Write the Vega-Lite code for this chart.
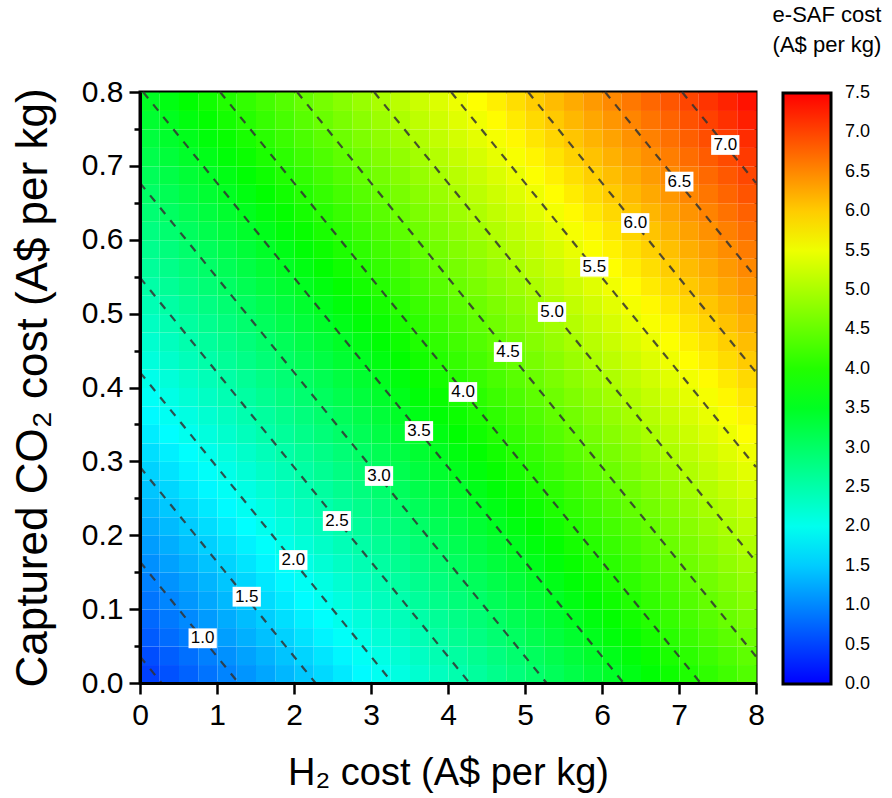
{
"$schema":"https://vega.github.io/schema/vega-lite/v6.json",
"width":616,"height":591,
"autosize":{"type":"none"},
"padding":{"left":140,"top":92,"right":136,"bottom":115},
"background":"white",
"datasets":{
"grid":[
{"h":0.125,"c":0.0125,"v":0.471},{"h":0.375,"c":0.0125,"v":0.596},{"h":0.625,"c":0.0125,"v":0.721},{"h":0.875,"c":0.0125,"v":0.846},{"h":1.125,"c":0.0125,"v":0.971},{"h":1.375,"c":0.0125,"v":1.096},{"h":1.625,"c":0.0125,"v":1.221},{"h":1.875,"c":0.0125,"v":1.346},{"h":2.125,"c":0.0125,"v":1.471},{"h":2.375,"c":0.0125,"v":1.596},{"h":2.625,"c":0.0125,"v":1.721},{"h":2.875,"c":0.0125,"v":1.846},{"h":3.125,"c":0.0125,"v":1.971},{"h":3.375,"c":0.0125,"v":2.096},{"h":3.625,"c":0.0125,"v":2.221},{"h":3.875,"c":0.0125,"v":2.346},{"h":4.125,"c":0.0125,"v":2.471},{"h":4.375,"c":0.0125,"v":2.596},{"h":4.625,"c":0.0125,"v":2.721},{"h":4.875,"c":0.0125,"v":2.846},{"h":5.125,"c":0.0125,"v":2.971},{"h":5.375,"c":0.0125,"v":3.096},{"h":5.625,"c":0.0125,"v":3.221},{"h":5.875,"c":0.0125,"v":3.346},{"h":6.125,"c":0.0125,"v":3.471},{"h":6.375,"c":0.0125,"v":3.596},{"h":6.625,"c":0.0125,"v":3.721},{"h":6.875,"c":0.0125,"v":3.846},{"h":7.125,"c":0.0125,"v":3.971},{"h":7.375,"c":0.0125,"v":4.096},{"h":7.625,"c":0.0125,"v":4.221},{"h":7.875,"c":0.0125,"v":4.346},
{"h":0.125,"c":0.0375,"v":0.569},{"h":0.375,"c":0.0375,"v":0.694},{"h":0.625,"c":0.0375,"v":0.819},{"h":0.875,"c":0.0375,"v":0.944},{"h":1.125,"c":0.0375,"v":1.069},{"h":1.375,"c":0.0375,"v":1.194},{"h":1.625,"c":0.0375,"v":1.319},{"h":1.875,"c":0.0375,"v":1.444},{"h":2.125,"c":0.0375,"v":1.569},{"h":2.375,"c":0.0375,"v":1.694},{"h":2.625,"c":0.0375,"v":1.819},{"h":2.875,"c":0.0375,"v":1.944},{"h":3.125,"c":0.0375,"v":2.069},{"h":3.375,"c":0.0375,"v":2.194},{"h":3.625,"c":0.0375,"v":2.319},{"h":3.875,"c":0.0375,"v":2.444},{"h":4.125,"c":0.0375,"v":2.569},{"h":4.375,"c":0.0375,"v":2.694},{"h":4.625,"c":0.0375,"v":2.819},{"h":4.875,"c":0.0375,"v":2.944},{"h":5.125,"c":0.0375,"v":3.069},{"h":5.375,"c":0.0375,"v":3.194},{"h":5.625,"c":0.0375,"v":3.319},{"h":5.875,"c":0.0375,"v":3.444},{"h":6.125,"c":0.0375,"v":3.569},{"h":6.375,"c":0.0375,"v":3.694},{"h":6.625,"c":0.0375,"v":3.819},{"h":6.875,"c":0.0375,"v":3.944},{"h":7.125,"c":0.0375,"v":4.069},{"h":7.375,"c":0.0375,"v":4.194},{"h":7.625,"c":0.0375,"v":4.319},{"h":7.875,"c":0.0375,"v":4.444},
{"h":0.125,"c":0.0625,"v":0.666},{"h":0.375,"c":0.0625,"v":0.791},{"h":0.625,"c":0.0625,"v":0.916},{"h":0.875,"c":0.0625,"v":1.041},{"h":1.125,"c":0.0625,"v":1.166},{"h":1.375,"c":0.0625,"v":1.291},{"h":1.625,"c":0.0625,"v":1.416},{"h":1.875,"c":0.0625,"v":1.541},{"h":2.125,"c":0.0625,"v":1.666},{"h":2.375,"c":0.0625,"v":1.791},{"h":2.625,"c":0.0625,"v":1.916},{"h":2.875,"c":0.0625,"v":2.041},{"h":3.125,"c":0.0625,"v":2.166},{"h":3.375,"c":0.0625,"v":2.291},{"h":3.625,"c":0.0625,"v":2.416},{"h":3.875,"c":0.0625,"v":2.541},{"h":4.125,"c":0.0625,"v":2.666},{"h":4.375,"c":0.0625,"v":2.791},{"h":4.625,"c":0.0625,"v":2.916},{"h":4.875,"c":0.0625,"v":3.041},{"h":5.125,"c":0.0625,"v":3.166},{"h":5.375,"c":0.0625,"v":3.291},{"h":5.625,"c":0.0625,"v":3.416},{"h":5.875,"c":0.0625,"v":3.541},{"h":6.125,"c":0.0625,"v":3.666},{"h":6.375,"c":0.0625,"v":3.791},{"h":6.625,"c":0.0625,"v":3.916},{"h":6.875,"c":0.0625,"v":4.041},{"h":7.125,"c":0.0625,"v":4.166},{"h":7.375,"c":0.0625,"v":4.291},{"h":7.625,"c":0.0625,"v":4.416},{"h":7.875,"c":0.0625,"v":4.541},
{"h":0.125,"c":0.0875,"v":0.764},{"h":0.375,"c":0.0875,"v":0.889},{"h":0.625,"c":0.0875,"v":1.014},{"h":0.875,"c":0.0875,"v":1.139},{"h":1.125,"c":0.0875,"v":1.264},{"h":1.375,"c":0.0875,"v":1.389},{"h":1.625,"c":0.0875,"v":1.514},{"h":1.875,"c":0.0875,"v":1.639},{"h":2.125,"c":0.0875,"v":1.764},{"h":2.375,"c":0.0875,"v":1.889},{"h":2.625,"c":0.0875,"v":2.014},{"h":2.875,"c":0.0875,"v":2.139},{"h":3.125,"c":0.0875,"v":2.264},{"h":3.375,"c":0.0875,"v":2.389},{"h":3.625,"c":0.0875,"v":2.514},{"h":3.875,"c":0.0875,"v":2.639},{"h":4.125,"c":0.0875,"v":2.764},{"h":4.375,"c":0.0875,"v":2.889},{"h":4.625,"c":0.0875,"v":3.014},{"h":4.875,"c":0.0875,"v":3.139},{"h":5.125,"c":0.0875,"v":3.264},{"h":5.375,"c":0.0875,"v":3.389},{"h":5.625,"c":0.0875,"v":3.514},{"h":5.875,"c":0.0875,"v":3.639},{"h":6.125,"c":0.0875,"v":3.764},{"h":6.375,"c":0.0875,"v":3.889},{"h":6.625,"c":0.0875,"v":4.014},{"h":6.875,"c":0.0875,"v":4.139},{"h":7.125,"c":0.0875,"v":4.264},{"h":7.375,"c":0.0875,"v":4.389},{"h":7.625,"c":0.0875,"v":4.514},{"h":7.875,"c":0.0875,"v":4.639},
{"h":0.125,"c":0.1125,"v":0.861},{"h":0.375,"c":0.1125,"v":0.986},{"h":0.625,"c":0.1125,"v":1.111},{"h":0.875,"c":0.1125,"v":1.236},{"h":1.125,"c":0.1125,"v":1.361},{"h":1.375,"c":0.1125,"v":1.486},{"h":1.625,"c":0.1125,"v":1.611},{"h":1.875,"c":0.1125,"v":1.736},{"h":2.125,"c":0.1125,"v":1.861},{"h":2.375,"c":0.1125,"v":1.986},{"h":2.625,"c":0.1125,"v":2.111},{"h":2.875,"c":0.1125,"v":2.236},{"h":3.125,"c":0.1125,"v":2.361},{"h":3.375,"c":0.1125,"v":2.486},{"h":3.625,"c":0.1125,"v":2.611},{"h":3.875,"c":0.1125,"v":2.736},{"h":4.125,"c":0.1125,"v":2.861},{"h":4.375,"c":0.1125,"v":2.986},{"h":4.625,"c":0.1125,"v":3.111},{"h":4.875,"c":0.1125,"v":3.236},{"h":5.125,"c":0.1125,"v":3.361},{"h":5.375,"c":0.1125,"v":3.486},{"h":5.625,"c":0.1125,"v":3.611},{"h":5.875,"c":0.1125,"v":3.736},{"h":6.125,"c":0.1125,"v":3.861},{"h":6.375,"c":0.1125,"v":3.986},{"h":6.625,"c":0.1125,"v":4.111},{"h":6.875,"c":0.1125,"v":4.236},{"h":7.125,"c":0.1125,"v":4.361},{"h":7.375,"c":0.1125,"v":4.486},{"h":7.625,"c":0.1125,"v":4.611},{"h":7.875,"c":0.1125,"v":4.736},
{"h":0.125,"c":0.1375,"v":0.959},{"h":0.375,"c":0.1375,"v":1.084},{"h":0.625,"c":0.1375,"v":1.209},{"h":0.875,"c":0.1375,"v":1.334},{"h":1.125,"c":0.1375,"v":1.459},{"h":1.375,"c":0.1375,"v":1.584},{"h":1.625,"c":0.1375,"v":1.709},{"h":1.875,"c":0.1375,"v":1.834},{"h":2.125,"c":0.1375,"v":1.959},{"h":2.375,"c":0.1375,"v":2.084},{"h":2.625,"c":0.1375,"v":2.209},{"h":2.875,"c":0.1375,"v":2.334},{"h":3.125,"c":0.1375,"v":2.459},{"h":3.375,"c":0.1375,"v":2.584},{"h":3.625,"c":0.1375,"v":2.709},{"h":3.875,"c":0.1375,"v":2.834},{"h":4.125,"c":0.1375,"v":2.959},{"h":4.375,"c":0.1375,"v":3.084},{"h":4.625,"c":0.1375,"v":3.209},{"h":4.875,"c":0.1375,"v":3.334},{"h":5.125,"c":0.1375,"v":3.459},{"h":5.375,"c":0.1375,"v":3.584},{"h":5.625,"c":0.1375,"v":3.709},{"h":5.875,"c":0.1375,"v":3.834},{"h":6.125,"c":0.1375,"v":3.959},{"h":6.375,"c":0.1375,"v":4.084},{"h":6.625,"c":0.1375,"v":4.209},{"h":6.875,"c":0.1375,"v":4.334},{"h":7.125,"c":0.1375,"v":4.459},{"h":7.375,"c":0.1375,"v":4.584},{"h":7.625,"c":0.1375,"v":4.709},{"h":7.875,"c":0.1375,"v":4.834},
{"h":0.125,"c":0.1625,"v":1.056},{"h":0.375,"c":0.1625,"v":1.181},{"h":0.625,"c":0.1625,"v":1.306},{"h":0.875,"c":0.1625,"v":1.431},{"h":1.125,"c":0.1625,"v":1.556},{"h":1.375,"c":0.1625,"v":1.681},{"h":1.625,"c":0.1625,"v":1.806},{"h":1.875,"c":0.1625,"v":1.931},{"h":2.125,"c":0.1625,"v":2.056},{"h":2.375,"c":0.1625,"v":2.181},{"h":2.625,"c":0.1625,"v":2.306},{"h":2.875,"c":0.1625,"v":2.431},{"h":3.125,"c":0.1625,"v":2.556},{"h":3.375,"c":0.1625,"v":2.681},{"h":3.625,"c":0.1625,"v":2.806},{"h":3.875,"c":0.1625,"v":2.931},{"h":4.125,"c":0.1625,"v":3.056},{"h":4.375,"c":0.1625,"v":3.181},{"h":4.625,"c":0.1625,"v":3.306},{"h":4.875,"c":0.1625,"v":3.431},{"h":5.125,"c":0.1625,"v":3.556},{"h":5.375,"c":0.1625,"v":3.681},{"h":5.625,"c":0.1625,"v":3.806},{"h":5.875,"c":0.1625,"v":3.931},{"h":6.125,"c":0.1625,"v":4.056},{"h":6.375,"c":0.1625,"v":4.181},{"h":6.625,"c":0.1625,"v":4.306},{"h":6.875,"c":0.1625,"v":4.431},{"h":7.125,"c":0.1625,"v":4.556},{"h":7.375,"c":0.1625,"v":4.681},{"h":7.625,"c":0.1625,"v":4.806},{"h":7.875,"c":0.1625,"v":4.931},
{"h":0.125,"c":0.1875,"v":1.154},{"h":0.375,"c":0.1875,"v":1.279},{"h":0.625,"c":0.1875,"v":1.404},{"h":0.875,"c":0.1875,"v":1.529},{"h":1.125,"c":0.1875,"v":1.654},{"h":1.375,"c":0.1875,"v":1.779},{"h":1.625,"c":0.1875,"v":1.904},{"h":1.875,"c":0.1875,"v":2.029},{"h":2.125,"c":0.1875,"v":2.154},{"h":2.375,"c":0.1875,"v":2.279},{"h":2.625,"c":0.1875,"v":2.404},{"h":2.875,"c":0.1875,"v":2.529},{"h":3.125,"c":0.1875,"v":2.654},{"h":3.375,"c":0.1875,"v":2.779},{"h":3.625,"c":0.1875,"v":2.904},{"h":3.875,"c":0.1875,"v":3.029},{"h":4.125,"c":0.1875,"v":3.154},{"h":4.375,"c":0.1875,"v":3.279},{"h":4.625,"c":0.1875,"v":3.404},{"h":4.875,"c":0.1875,"v":3.529},{"h":5.125,"c":0.1875,"v":3.654},{"h":5.375,"c":0.1875,"v":3.779},{"h":5.625,"c":0.1875,"v":3.904},{"h":5.875,"c":0.1875,"v":4.029},{"h":6.125,"c":0.1875,"v":4.154},{"h":6.375,"c":0.1875,"v":4.279},{"h":6.625,"c":0.1875,"v":4.404},{"h":6.875,"c":0.1875,"v":4.529},{"h":7.125,"c":0.1875,"v":4.654},{"h":7.375,"c":0.1875,"v":4.779},{"h":7.625,"c":0.1875,"v":4.904},{"h":7.875,"c":0.1875,"v":5.029},
{"h":0.125,"c":0.2125,"v":1.251},{"h":0.375,"c":0.2125,"v":1.376},{"h":0.625,"c":0.2125,"v":1.501},{"h":0.875,"c":0.2125,"v":1.626},{"h":1.125,"c":0.2125,"v":1.751},{"h":1.375,"c":0.2125,"v":1.876},{"h":1.625,"c":0.2125,"v":2.001},{"h":1.875,"c":0.2125,"v":2.126},{"h":2.125,"c":0.2125,"v":2.251},{"h":2.375,"c":0.2125,"v":2.376},{"h":2.625,"c":0.2125,"v":2.501},{"h":2.875,"c":0.2125,"v":2.626},{"h":3.125,"c":0.2125,"v":2.751},{"h":3.375,"c":0.2125,"v":2.876},{"h":3.625,"c":0.2125,"v":3.001},{"h":3.875,"c":0.2125,"v":3.126},{"h":4.125,"c":0.2125,"v":3.251},{"h":4.375,"c":0.2125,"v":3.376},{"h":4.625,"c":0.2125,"v":3.501},{"h":4.875,"c":0.2125,"v":3.626},{"h":5.125,"c":0.2125,"v":3.751},{"h":5.375,"c":0.2125,"v":3.876},{"h":5.625,"c":0.2125,"v":4.001},{"h":5.875,"c":0.2125,"v":4.126},{"h":6.125,"c":0.2125,"v":4.251},{"h":6.375,"c":0.2125,"v":4.376},{"h":6.625,"c":0.2125,"v":4.501},{"h":6.875,"c":0.2125,"v":4.626},{"h":7.125,"c":0.2125,"v":4.751},{"h":7.375,"c":0.2125,"v":4.876},{"h":7.625,"c":0.2125,"v":5.001},{"h":7.875,"c":0.2125,"v":5.126},
{"h":0.125,"c":0.2375,"v":1.349},{"h":0.375,"c":0.2375,"v":1.474},{"h":0.625,"c":0.2375,"v":1.599},{"h":0.875,"c":0.2375,"v":1.724},{"h":1.125,"c":0.2375,"v":1.849},{"h":1.375,"c":0.2375,"v":1.974},{"h":1.625,"c":0.2375,"v":2.099},{"h":1.875,"c":0.2375,"v":2.224},{"h":2.125,"c":0.2375,"v":2.349},{"h":2.375,"c":0.2375,"v":2.474},{"h":2.625,"c":0.2375,"v":2.599},{"h":2.875,"c":0.2375,"v":2.724},{"h":3.125,"c":0.2375,"v":2.849},{"h":3.375,"c":0.2375,"v":2.974},{"h":3.625,"c":0.2375,"v":3.099},{"h":3.875,"c":0.2375,"v":3.224},{"h":4.125,"c":0.2375,"v":3.349},{"h":4.375,"c":0.2375,"v":3.474},{"h":4.625,"c":0.2375,"v":3.599},{"h":4.875,"c":0.2375,"v":3.724},{"h":5.125,"c":0.2375,"v":3.849},{"h":5.375,"c":0.2375,"v":3.974},{"h":5.625,"c":0.2375,"v":4.099},{"h":5.875,"c":0.2375,"v":4.224},{"h":6.125,"c":0.2375,"v":4.349},{"h":6.375,"c":0.2375,"v":4.474},{"h":6.625,"c":0.2375,"v":4.599},{"h":6.875,"c":0.2375,"v":4.724},{"h":7.125,"c":0.2375,"v":4.849},{"h":7.375,"c":0.2375,"v":4.974},{"h":7.625,"c":0.2375,"v":5.099},{"h":7.875,"c":0.2375,"v":5.224},
{"h":0.125,"c":0.2625,"v":1.446},{"h":0.375,"c":0.2625,"v":1.571},{"h":0.625,"c":0.2625,"v":1.696},{"h":0.875,"c":0.2625,"v":1.821},{"h":1.125,"c":0.2625,"v":1.946},{"h":1.375,"c":0.2625,"v":2.071},{"h":1.625,"c":0.2625,"v":2.196},{"h":1.875,"c":0.2625,"v":2.321},{"h":2.125,"c":0.2625,"v":2.446},{"h":2.375,"c":0.2625,"v":2.571},{"h":2.625,"c":0.2625,"v":2.696},{"h":2.875,"c":0.2625,"v":2.821},{"h":3.125,"c":0.2625,"v":2.946},{"h":3.375,"c":0.2625,"v":3.071},{"h":3.625,"c":0.2625,"v":3.196},{"h":3.875,"c":0.2625,"v":3.321},{"h":4.125,"c":0.2625,"v":3.446},{"h":4.375,"c":0.2625,"v":3.571},{"h":4.625,"c":0.2625,"v":3.696},{"h":4.875,"c":0.2625,"v":3.821},{"h":5.125,"c":0.2625,"v":3.946},{"h":5.375,"c":0.2625,"v":4.071},{"h":5.625,"c":0.2625,"v":4.196},{"h":5.875,"c":0.2625,"v":4.321},{"h":6.125,"c":0.2625,"v":4.446},{"h":6.375,"c":0.2625,"v":4.571},{"h":6.625,"c":0.2625,"v":4.696},{"h":6.875,"c":0.2625,"v":4.821},{"h":7.125,"c":0.2625,"v":4.946},{"h":7.375,"c":0.2625,"v":5.071},{"h":7.625,"c":0.2625,"v":5.196},{"h":7.875,"c":0.2625,"v":5.321},
{"h":0.125,"c":0.2875,"v":1.544},{"h":0.375,"c":0.2875,"v":1.669},{"h":0.625,"c":0.2875,"v":1.794},{"h":0.875,"c":0.2875,"v":1.919},{"h":1.125,"c":0.2875,"v":2.044},{"h":1.375,"c":0.2875,"v":2.169},{"h":1.625,"c":0.2875,"v":2.294},{"h":1.875,"c":0.2875,"v":2.419},{"h":2.125,"c":0.2875,"v":2.544},{"h":2.375,"c":0.2875,"v":2.669},{"h":2.625,"c":0.2875,"v":2.794},{"h":2.875,"c":0.2875,"v":2.919},{"h":3.125,"c":0.2875,"v":3.044},{"h":3.375,"c":0.2875,"v":3.169},{"h":3.625,"c":0.2875,"v":3.294},{"h":3.875,"c":0.2875,"v":3.419},{"h":4.125,"c":0.2875,"v":3.544},{"h":4.375,"c":0.2875,"v":3.669},{"h":4.625,"c":0.2875,"v":3.794},{"h":4.875,"c":0.2875,"v":3.919},{"h":5.125,"c":0.2875,"v":4.044},{"h":5.375,"c":0.2875,"v":4.169},{"h":5.625,"c":0.2875,"v":4.294},{"h":5.875,"c":0.2875,"v":4.419},{"h":6.125,"c":0.2875,"v":4.544},{"h":6.375,"c":0.2875,"v":4.669},{"h":6.625,"c":0.2875,"v":4.794},{"h":6.875,"c":0.2875,"v":4.919},{"h":7.125,"c":0.2875,"v":5.044},{"h":7.375,"c":0.2875,"v":5.169},{"h":7.625,"c":0.2875,"v":5.294},{"h":7.875,"c":0.2875,"v":5.419},
{"h":0.125,"c":0.3125,"v":1.641},{"h":0.375,"c":0.3125,"v":1.766},{"h":0.625,"c":0.3125,"v":1.891},{"h":0.875,"c":0.3125,"v":2.016},{"h":1.125,"c":0.3125,"v":2.141},{"h":1.375,"c":0.3125,"v":2.266},{"h":1.625,"c":0.3125,"v":2.391},{"h":1.875,"c":0.3125,"v":2.516},{"h":2.125,"c":0.3125,"v":2.641},{"h":2.375,"c":0.3125,"v":2.766},{"h":2.625,"c":0.3125,"v":2.891},{"h":2.875,"c":0.3125,"v":3.016},{"h":3.125,"c":0.3125,"v":3.141},{"h":3.375,"c":0.3125,"v":3.266},{"h":3.625,"c":0.3125,"v":3.391},{"h":3.875,"c":0.3125,"v":3.516},{"h":4.125,"c":0.3125,"v":3.641},{"h":4.375,"c":0.3125,"v":3.766},{"h":4.625,"c":0.3125,"v":3.891},{"h":4.875,"c":0.3125,"v":4.016},{"h":5.125,"c":0.3125,"v":4.141},{"h":5.375,"c":0.3125,"v":4.266},{"h":5.625,"c":0.3125,"v":4.391},{"h":5.875,"c":0.3125,"v":4.516},{"h":6.125,"c":0.3125,"v":4.641},{"h":6.375,"c":0.3125,"v":4.766},{"h":6.625,"c":0.3125,"v":4.891},{"h":6.875,"c":0.3125,"v":5.016},{"h":7.125,"c":0.3125,"v":5.141},{"h":7.375,"c":0.3125,"v":5.266},{"h":7.625,"c":0.3125,"v":5.391},{"h":7.875,"c":0.3125,"v":5.516},
{"h":0.125,"c":0.3375,"v":1.739},{"h":0.375,"c":0.3375,"v":1.864},{"h":0.625,"c":0.3375,"v":1.989},{"h":0.875,"c":0.3375,"v":2.114},{"h":1.125,"c":0.3375,"v":2.239},{"h":1.375,"c":0.3375,"v":2.364},{"h":1.625,"c":0.3375,"v":2.489},{"h":1.875,"c":0.3375,"v":2.614},{"h":2.125,"c":0.3375,"v":2.739},{"h":2.375,"c":0.3375,"v":2.864},{"h":2.625,"c":0.3375,"v":2.989},{"h":2.875,"c":0.3375,"v":3.114},{"h":3.125,"c":0.3375,"v":3.239},{"h":3.375,"c":0.3375,"v":3.364},{"h":3.625,"c":0.3375,"v":3.489},{"h":3.875,"c":0.3375,"v":3.614},{"h":4.125,"c":0.3375,"v":3.739},{"h":4.375,"c":0.3375,"v":3.864},{"h":4.625,"c":0.3375,"v":3.989},{"h":4.875,"c":0.3375,"v":4.114},{"h":5.125,"c":0.3375,"v":4.239},{"h":5.375,"c":0.3375,"v":4.364},{"h":5.625,"c":0.3375,"v":4.489},{"h":5.875,"c":0.3375,"v":4.614},{"h":6.125,"c":0.3375,"v":4.739},{"h":6.375,"c":0.3375,"v":4.864},{"h":6.625,"c":0.3375,"v":4.989},{"h":6.875,"c":0.3375,"v":5.114},{"h":7.125,"c":0.3375,"v":5.239},{"h":7.375,"c":0.3375,"v":5.364},{"h":7.625,"c":0.3375,"v":5.489},{"h":7.875,"c":0.3375,"v":5.614},
{"h":0.125,"c":0.3625,"v":1.836},{"h":0.375,"c":0.3625,"v":1.961},{"h":0.625,"c":0.3625,"v":2.086},{"h":0.875,"c":0.3625,"v":2.211},{"h":1.125,"c":0.3625,"v":2.336},{"h":1.375,"c":0.3625,"v":2.461},{"h":1.625,"c":0.3625,"v":2.586},{"h":1.875,"c":0.3625,"v":2.711},{"h":2.125,"c":0.3625,"v":2.836},{"h":2.375,"c":0.3625,"v":2.961},{"h":2.625,"c":0.3625,"v":3.086},{"h":2.875,"c":0.3625,"v":3.211},{"h":3.125,"c":0.3625,"v":3.336},{"h":3.375,"c":0.3625,"v":3.461},{"h":3.625,"c":0.3625,"v":3.586},{"h":3.875,"c":0.3625,"v":3.711},{"h":4.125,"c":0.3625,"v":3.836},{"h":4.375,"c":0.3625,"v":3.961},{"h":4.625,"c":0.3625,"v":4.086},{"h":4.875,"c":0.3625,"v":4.211},{"h":5.125,"c":0.3625,"v":4.336},{"h":5.375,"c":0.3625,"v":4.461},{"h":5.625,"c":0.3625,"v":4.586},{"h":5.875,"c":0.3625,"v":4.711},{"h":6.125,"c":0.3625,"v":4.836},{"h":6.375,"c":0.3625,"v":4.961},{"h":6.625,"c":0.3625,"v":5.086},{"h":6.875,"c":0.3625,"v":5.211},{"h":7.125,"c":0.3625,"v":5.336},{"h":7.375,"c":0.3625,"v":5.461},{"h":7.625,"c":0.3625,"v":5.586},{"h":7.875,"c":0.3625,"v":5.711},
{"h":0.125,"c":0.3875,"v":1.934},{"h":0.375,"c":0.3875,"v":2.059},{"h":0.625,"c":0.3875,"v":2.184},{"h":0.875,"c":0.3875,"v":2.309},{"h":1.125,"c":0.3875,"v":2.434},{"h":1.375,"c":0.3875,"v":2.559},{"h":1.625,"c":0.3875,"v":2.684},{"h":1.875,"c":0.3875,"v":2.809},{"h":2.125,"c":0.3875,"v":2.934},{"h":2.375,"c":0.3875,"v":3.059},{"h":2.625,"c":0.3875,"v":3.184},{"h":2.875,"c":0.3875,"v":3.309},{"h":3.125,"c":0.3875,"v":3.434},{"h":3.375,"c":0.3875,"v":3.559},{"h":3.625,"c":0.3875,"v":3.684},{"h":3.875,"c":0.3875,"v":3.809},{"h":4.125,"c":0.3875,"v":3.934},{"h":4.375,"c":0.3875,"v":4.059},{"h":4.625,"c":0.3875,"v":4.184},{"h":4.875,"c":0.3875,"v":4.309},{"h":5.125,"c":0.3875,"v":4.434},{"h":5.375,"c":0.3875,"v":4.559},{"h":5.625,"c":0.3875,"v":4.684},{"h":5.875,"c":0.3875,"v":4.809},{"h":6.125,"c":0.3875,"v":4.934},{"h":6.375,"c":0.3875,"v":5.059},{"h":6.625,"c":0.3875,"v":5.184},{"h":6.875,"c":0.3875,"v":5.309},{"h":7.125,"c":0.3875,"v":5.434},{"h":7.375,"c":0.3875,"v":5.559},{"h":7.625,"c":0.3875,"v":5.684},{"h":7.875,"c":0.3875,"v":5.809},
{"h":0.125,"c":0.4125,"v":2.031},{"h":0.375,"c":0.4125,"v":2.156},{"h":0.625,"c":0.4125,"v":2.281},{"h":0.875,"c":0.4125,"v":2.406},{"h":1.125,"c":0.4125,"v":2.531},{"h":1.375,"c":0.4125,"v":2.656},{"h":1.625,"c":0.4125,"v":2.781},{"h":1.875,"c":0.4125,"v":2.906},{"h":2.125,"c":0.4125,"v":3.031},{"h":2.375,"c":0.4125,"v":3.156},{"h":2.625,"c":0.4125,"v":3.281},{"h":2.875,"c":0.4125,"v":3.406},{"h":3.125,"c":0.4125,"v":3.531},{"h":3.375,"c":0.4125,"v":3.656},{"h":3.625,"c":0.4125,"v":3.781},{"h":3.875,"c":0.4125,"v":3.906},{"h":4.125,"c":0.4125,"v":4.031},{"h":4.375,"c":0.4125,"v":4.156},{"h":4.625,"c":0.4125,"v":4.281},{"h":4.875,"c":0.4125,"v":4.406},{"h":5.125,"c":0.4125,"v":4.531},{"h":5.375,"c":0.4125,"v":4.656},{"h":5.625,"c":0.4125,"v":4.781},{"h":5.875,"c":0.4125,"v":4.906},{"h":6.125,"c":0.4125,"v":5.031},{"h":6.375,"c":0.4125,"v":5.156},{"h":6.625,"c":0.4125,"v":5.281},{"h":6.875,"c":0.4125,"v":5.406},{"h":7.125,"c":0.4125,"v":5.531},{"h":7.375,"c":0.4125,"v":5.656},{"h":7.625,"c":0.4125,"v":5.781},{"h":7.875,"c":0.4125,"v":5.906},
{"h":0.125,"c":0.4375,"v":2.129},{"h":0.375,"c":0.4375,"v":2.254},{"h":0.625,"c":0.4375,"v":2.379},{"h":0.875,"c":0.4375,"v":2.504},{"h":1.125,"c":0.4375,"v":2.629},{"h":1.375,"c":0.4375,"v":2.754},{"h":1.625,"c":0.4375,"v":2.879},{"h":1.875,"c":0.4375,"v":3.004},{"h":2.125,"c":0.4375,"v":3.129},{"h":2.375,"c":0.4375,"v":3.254},{"h":2.625,"c":0.4375,"v":3.379},{"h":2.875,"c":0.4375,"v":3.504},{"h":3.125,"c":0.4375,"v":3.629},{"h":3.375,"c":0.4375,"v":3.754},{"h":3.625,"c":0.4375,"v":3.879},{"h":3.875,"c":0.4375,"v":4.004},{"h":4.125,"c":0.4375,"v":4.129},{"h":4.375,"c":0.4375,"v":4.254},{"h":4.625,"c":0.4375,"v":4.379},{"h":4.875,"c":0.4375,"v":4.504},{"h":5.125,"c":0.4375,"v":4.629},{"h":5.375,"c":0.4375,"v":4.754},{"h":5.625,"c":0.4375,"v":4.879},{"h":5.875,"c":0.4375,"v":5.004},{"h":6.125,"c":0.4375,"v":5.129},{"h":6.375,"c":0.4375,"v":5.254},{"h":6.625,"c":0.4375,"v":5.379},{"h":6.875,"c":0.4375,"v":5.504},{"h":7.125,"c":0.4375,"v":5.629},{"h":7.375,"c":0.4375,"v":5.754},{"h":7.625,"c":0.4375,"v":5.879},{"h":7.875,"c":0.4375,"v":6.004},
{"h":0.125,"c":0.4625,"v":2.226},{"h":0.375,"c":0.4625,"v":2.351},{"h":0.625,"c":0.4625,"v":2.476},{"h":0.875,"c":0.4625,"v":2.601},{"h":1.125,"c":0.4625,"v":2.726},{"h":1.375,"c":0.4625,"v":2.851},{"h":1.625,"c":0.4625,"v":2.976},{"h":1.875,"c":0.4625,"v":3.101},{"h":2.125,"c":0.4625,"v":3.226},{"h":2.375,"c":0.4625,"v":3.351},{"h":2.625,"c":0.4625,"v":3.476},{"h":2.875,"c":0.4625,"v":3.601},{"h":3.125,"c":0.4625,"v":3.726},{"h":3.375,"c":0.4625,"v":3.851},{"h":3.625,"c":0.4625,"v":3.976},{"h":3.875,"c":0.4625,"v":4.101},{"h":4.125,"c":0.4625,"v":4.226},{"h":4.375,"c":0.4625,"v":4.351},{"h":4.625,"c":0.4625,"v":4.476},{"h":4.875,"c":0.4625,"v":4.601},{"h":5.125,"c":0.4625,"v":4.726},{"h":5.375,"c":0.4625,"v":4.851},{"h":5.625,"c":0.4625,"v":4.976},{"h":5.875,"c":0.4625,"v":5.101},{"h":6.125,"c":0.4625,"v":5.226},{"h":6.375,"c":0.4625,"v":5.351},{"h":6.625,"c":0.4625,"v":5.476},{"h":6.875,"c":0.4625,"v":5.601},{"h":7.125,"c":0.4625,"v":5.726},{"h":7.375,"c":0.4625,"v":5.851},{"h":7.625,"c":0.4625,"v":5.976},{"h":7.875,"c":0.4625,"v":6.101},
{"h":0.125,"c":0.4875,"v":2.324},{"h":0.375,"c":0.4875,"v":2.449},{"h":0.625,"c":0.4875,"v":2.574},{"h":0.875,"c":0.4875,"v":2.699},{"h":1.125,"c":0.4875,"v":2.824},{"h":1.375,"c":0.4875,"v":2.949},{"h":1.625,"c":0.4875,"v":3.074},{"h":1.875,"c":0.4875,"v":3.199},{"h":2.125,"c":0.4875,"v":3.324},{"h":2.375,"c":0.4875,"v":3.449},{"h":2.625,"c":0.4875,"v":3.574},{"h":2.875,"c":0.4875,"v":3.699},{"h":3.125,"c":0.4875,"v":3.824},{"h":3.375,"c":0.4875,"v":3.949},{"h":3.625,"c":0.4875,"v":4.074},{"h":3.875,"c":0.4875,"v":4.199},{"h":4.125,"c":0.4875,"v":4.324},{"h":4.375,"c":0.4875,"v":4.449},{"h":4.625,"c":0.4875,"v":4.574},{"h":4.875,"c":0.4875,"v":4.699},{"h":5.125,"c":0.4875,"v":4.824},{"h":5.375,"c":0.4875,"v":4.949},{"h":5.625,"c":0.4875,"v":5.074},{"h":5.875,"c":0.4875,"v":5.199},{"h":6.125,"c":0.4875,"v":5.324},{"h":6.375,"c":0.4875,"v":5.449},{"h":6.625,"c":0.4875,"v":5.574},{"h":6.875,"c":0.4875,"v":5.699},{"h":7.125,"c":0.4875,"v":5.824},{"h":7.375,"c":0.4875,"v":5.949},{"h":7.625,"c":0.4875,"v":6.074},{"h":7.875,"c":0.4875,"v":6.199},
{"h":0.125,"c":0.5125,"v":2.421},{"h":0.375,"c":0.5125,"v":2.546},{"h":0.625,"c":0.5125,"v":2.671},{"h":0.875,"c":0.5125,"v":2.796},{"h":1.125,"c":0.5125,"v":2.921},{"h":1.375,"c":0.5125,"v":3.046},{"h":1.625,"c":0.5125,"v":3.171},{"h":1.875,"c":0.5125,"v":3.296},{"h":2.125,"c":0.5125,"v":3.421},{"h":2.375,"c":0.5125,"v":3.546},{"h":2.625,"c":0.5125,"v":3.671},{"h":2.875,"c":0.5125,"v":3.796},{"h":3.125,"c":0.5125,"v":3.921},{"h":3.375,"c":0.5125,"v":4.046},{"h":3.625,"c":0.5125,"v":4.171},{"h":3.875,"c":0.5125,"v":4.296},{"h":4.125,"c":0.5125,"v":4.421},{"h":4.375,"c":0.5125,"v":4.546},{"h":4.625,"c":0.5125,"v":4.671},{"h":4.875,"c":0.5125,"v":4.796},{"h":5.125,"c":0.5125,"v":4.921},{"h":5.375,"c":0.5125,"v":5.046},{"h":5.625,"c":0.5125,"v":5.171},{"h":5.875,"c":0.5125,"v":5.296},{"h":6.125,"c":0.5125,"v":5.421},{"h":6.375,"c":0.5125,"v":5.546},{"h":6.625,"c":0.5125,"v":5.671},{"h":6.875,"c":0.5125,"v":5.796},{"h":7.125,"c":0.5125,"v":5.921},{"h":7.375,"c":0.5125,"v":6.046},{"h":7.625,"c":0.5125,"v":6.171},{"h":7.875,"c":0.5125,"v":6.296},
{"h":0.125,"c":0.5375,"v":2.519},{"h":0.375,"c":0.5375,"v":2.644},{"h":0.625,"c":0.5375,"v":2.769},{"h":0.875,"c":0.5375,"v":2.894},{"h":1.125,"c":0.5375,"v":3.019},{"h":1.375,"c":0.5375,"v":3.144},{"h":1.625,"c":0.5375,"v":3.269},{"h":1.875,"c":0.5375,"v":3.394},{"h":2.125,"c":0.5375,"v":3.519},{"h":2.375,"c":0.5375,"v":3.644},{"h":2.625,"c":0.5375,"v":3.769},{"h":2.875,"c":0.5375,"v":3.894},{"h":3.125,"c":0.5375,"v":4.019},{"h":3.375,"c":0.5375,"v":4.144},{"h":3.625,"c":0.5375,"v":4.269},{"h":3.875,"c":0.5375,"v":4.394},{"h":4.125,"c":0.5375,"v":4.519},{"h":4.375,"c":0.5375,"v":4.644},{"h":4.625,"c":0.5375,"v":4.769},{"h":4.875,"c":0.5375,"v":4.894},{"h":5.125,"c":0.5375,"v":5.019},{"h":5.375,"c":0.5375,"v":5.144},{"h":5.625,"c":0.5375,"v":5.269},{"h":5.875,"c":0.5375,"v":5.394},{"h":6.125,"c":0.5375,"v":5.519},{"h":6.375,"c":0.5375,"v":5.644},{"h":6.625,"c":0.5375,"v":5.769},{"h":6.875,"c":0.5375,"v":5.894},{"h":7.125,"c":0.5375,"v":6.019},{"h":7.375,"c":0.5375,"v":6.144},{"h":7.625,"c":0.5375,"v":6.269},{"h":7.875,"c":0.5375,"v":6.394},
{"h":0.125,"c":0.5625,"v":2.616},{"h":0.375,"c":0.5625,"v":2.741},{"h":0.625,"c":0.5625,"v":2.866},{"h":0.875,"c":0.5625,"v":2.991},{"h":1.125,"c":0.5625,"v":3.116},{"h":1.375,"c":0.5625,"v":3.241},{"h":1.625,"c":0.5625,"v":3.366},{"h":1.875,"c":0.5625,"v":3.491},{"h":2.125,"c":0.5625,"v":3.616},{"h":2.375,"c":0.5625,"v":3.741},{"h":2.625,"c":0.5625,"v":3.866},{"h":2.875,"c":0.5625,"v":3.991},{"h":3.125,"c":0.5625,"v":4.116},{"h":3.375,"c":0.5625,"v":4.241},{"h":3.625,"c":0.5625,"v":4.366},{"h":3.875,"c":0.5625,"v":4.491},{"h":4.125,"c":0.5625,"v":4.616},{"h":4.375,"c":0.5625,"v":4.741},{"h":4.625,"c":0.5625,"v":4.866},{"h":4.875,"c":0.5625,"v":4.991},{"h":5.125,"c":0.5625,"v":5.116},{"h":5.375,"c":0.5625,"v":5.241},{"h":5.625,"c":0.5625,"v":5.366},{"h":5.875,"c":0.5625,"v":5.491},{"h":6.125,"c":0.5625,"v":5.616},{"h":6.375,"c":0.5625,"v":5.741},{"h":6.625,"c":0.5625,"v":5.866},{"h":6.875,"c":0.5625,"v":5.991},{"h":7.125,"c":0.5625,"v":6.116},{"h":7.375,"c":0.5625,"v":6.241},{"h":7.625,"c":0.5625,"v":6.366},{"h":7.875,"c":0.5625,"v":6.491},
{"h":0.125,"c":0.5875,"v":2.714},{"h":0.375,"c":0.5875,"v":2.839},{"h":0.625,"c":0.5875,"v":2.964},{"h":0.875,"c":0.5875,"v":3.089},{"h":1.125,"c":0.5875,"v":3.214},{"h":1.375,"c":0.5875,"v":3.339},{"h":1.625,"c":0.5875,"v":3.464},{"h":1.875,"c":0.5875,"v":3.589},{"h":2.125,"c":0.5875,"v":3.714},{"h":2.375,"c":0.5875,"v":3.839},{"h":2.625,"c":0.5875,"v":3.964},{"h":2.875,"c":0.5875,"v":4.089},{"h":3.125,"c":0.5875,"v":4.214},{"h":3.375,"c":0.5875,"v":4.339},{"h":3.625,"c":0.5875,"v":4.464},{"h":3.875,"c":0.5875,"v":4.589},{"h":4.125,"c":0.5875,"v":4.714},{"h":4.375,"c":0.5875,"v":4.839},{"h":4.625,"c":0.5875,"v":4.964},{"h":4.875,"c":0.5875,"v":5.089},{"h":5.125,"c":0.5875,"v":5.214},{"h":5.375,"c":0.5875,"v":5.339},{"h":5.625,"c":0.5875,"v":5.464},{"h":5.875,"c":0.5875,"v":5.589},{"h":6.125,"c":0.5875,"v":5.714},{"h":6.375,"c":0.5875,"v":5.839},{"h":6.625,"c":0.5875,"v":5.964},{"h":6.875,"c":0.5875,"v":6.089},{"h":7.125,"c":0.5875,"v":6.214},{"h":7.375,"c":0.5875,"v":6.339},{"h":7.625,"c":0.5875,"v":6.464},{"h":7.875,"c":0.5875,"v":6.589},
{"h":0.125,"c":0.6125,"v":2.811},{"h":0.375,"c":0.6125,"v":2.936},{"h":0.625,"c":0.6125,"v":3.061},{"h":0.875,"c":0.6125,"v":3.186},{"h":1.125,"c":0.6125,"v":3.311},{"h":1.375,"c":0.6125,"v":3.436},{"h":1.625,"c":0.6125,"v":3.561},{"h":1.875,"c":0.6125,"v":3.686},{"h":2.125,"c":0.6125,"v":3.811},{"h":2.375,"c":0.6125,"v":3.936},{"h":2.625,"c":0.6125,"v":4.061},{"h":2.875,"c":0.6125,"v":4.186},{"h":3.125,"c":0.6125,"v":4.311},{"h":3.375,"c":0.6125,"v":4.436},{"h":3.625,"c":0.6125,"v":4.561},{"h":3.875,"c":0.6125,"v":4.686},{"h":4.125,"c":0.6125,"v":4.811},{"h":4.375,"c":0.6125,"v":4.936},{"h":4.625,"c":0.6125,"v":5.061},{"h":4.875,"c":0.6125,"v":5.186},{"h":5.125,"c":0.6125,"v":5.311},{"h":5.375,"c":0.6125,"v":5.436},{"h":5.625,"c":0.6125,"v":5.561},{"h":5.875,"c":0.6125,"v":5.686},{"h":6.125,"c":0.6125,"v":5.811},{"h":6.375,"c":0.6125,"v":5.936},{"h":6.625,"c":0.6125,"v":6.061},{"h":6.875,"c":0.6125,"v":6.186},{"h":7.125,"c":0.6125,"v":6.311},{"h":7.375,"c":0.6125,"v":6.436},{"h":7.625,"c":0.6125,"v":6.561},{"h":7.875,"c":0.6125,"v":6.686},
{"h":0.125,"c":0.6375,"v":2.909},{"h":0.375,"c":0.6375,"v":3.034},{"h":0.625,"c":0.6375,"v":3.159},{"h":0.875,"c":0.6375,"v":3.284},{"h":1.125,"c":0.6375,"v":3.409},{"h":1.375,"c":0.6375,"v":3.534},{"h":1.625,"c":0.6375,"v":3.659},{"h":1.875,"c":0.6375,"v":3.784},{"h":2.125,"c":0.6375,"v":3.909},{"h":2.375,"c":0.6375,"v":4.034},{"h":2.625,"c":0.6375,"v":4.159},{"h":2.875,"c":0.6375,"v":4.284},{"h":3.125,"c":0.6375,"v":4.409},{"h":3.375,"c":0.6375,"v":4.534},{"h":3.625,"c":0.6375,"v":4.659},{"h":3.875,"c":0.6375,"v":4.784},{"h":4.125,"c":0.6375,"v":4.909},{"h":4.375,"c":0.6375,"v":5.034},{"h":4.625,"c":0.6375,"v":5.159},{"h":4.875,"c":0.6375,"v":5.284},{"h":5.125,"c":0.6375,"v":5.409},{"h":5.375,"c":0.6375,"v":5.534},{"h":5.625,"c":0.6375,"v":5.659},{"h":5.875,"c":0.6375,"v":5.784},{"h":6.125,"c":0.6375,"v":5.909},{"h":6.375,"c":0.6375,"v":6.034},{"h":6.625,"c":0.6375,"v":6.159},{"h":6.875,"c":0.6375,"v":6.284},{"h":7.125,"c":0.6375,"v":6.409},{"h":7.375,"c":0.6375,"v":6.534},{"h":7.625,"c":0.6375,"v":6.659},{"h":7.875,"c":0.6375,"v":6.784},
{"h":0.125,"c":0.6625,"v":3.006},{"h":0.375,"c":0.6625,"v":3.131},{"h":0.625,"c":0.6625,"v":3.256},{"h":0.875,"c":0.6625,"v":3.381},{"h":1.125,"c":0.6625,"v":3.506},{"h":1.375,"c":0.6625,"v":3.631},{"h":1.625,"c":0.6625,"v":3.756},{"h":1.875,"c":0.6625,"v":3.881},{"h":2.125,"c":0.6625,"v":4.006},{"h":2.375,"c":0.6625,"v":4.131},{"h":2.625,"c":0.6625,"v":4.256},{"h":2.875,"c":0.6625,"v":4.381},{"h":3.125,"c":0.6625,"v":4.506},{"h":3.375,"c":0.6625,"v":4.631},{"h":3.625,"c":0.6625,"v":4.756},{"h":3.875,"c":0.6625,"v":4.881},{"h":4.125,"c":0.6625,"v":5.006},{"h":4.375,"c":0.6625,"v":5.131},{"h":4.625,"c":0.6625,"v":5.256},{"h":4.875,"c":0.6625,"v":5.381},{"h":5.125,"c":0.6625,"v":5.506},{"h":5.375,"c":0.6625,"v":5.631},{"h":5.625,"c":0.6625,"v":5.756},{"h":5.875,"c":0.6625,"v":5.881},{"h":6.125,"c":0.6625,"v":6.006},{"h":6.375,"c":0.6625,"v":6.131},{"h":6.625,"c":0.6625,"v":6.256},{"h":6.875,"c":0.6625,"v":6.381},{"h":7.125,"c":0.6625,"v":6.506},{"h":7.375,"c":0.6625,"v":6.631},{"h":7.625,"c":0.6625,"v":6.756},{"h":7.875,"c":0.6625,"v":6.881},
{"h":0.125,"c":0.6875,"v":3.104},{"h":0.375,"c":0.6875,"v":3.229},{"h":0.625,"c":0.6875,"v":3.354},{"h":0.875,"c":0.6875,"v":3.479},{"h":1.125,"c":0.6875,"v":3.604},{"h":1.375,"c":0.6875,"v":3.729},{"h":1.625,"c":0.6875,"v":3.854},{"h":1.875,"c":0.6875,"v":3.979},{"h":2.125,"c":0.6875,"v":4.104},{"h":2.375,"c":0.6875,"v":4.229},{"h":2.625,"c":0.6875,"v":4.354},{"h":2.875,"c":0.6875,"v":4.479},{"h":3.125,"c":0.6875,"v":4.604},{"h":3.375,"c":0.6875,"v":4.729},{"h":3.625,"c":0.6875,"v":4.854},{"h":3.875,"c":0.6875,"v":4.979},{"h":4.125,"c":0.6875,"v":5.104},{"h":4.375,"c":0.6875,"v":5.229},{"h":4.625,"c":0.6875,"v":5.354},{"h":4.875,"c":0.6875,"v":5.479},{"h":5.125,"c":0.6875,"v":5.604},{"h":5.375,"c":0.6875,"v":5.729},{"h":5.625,"c":0.6875,"v":5.854},{"h":5.875,"c":0.6875,"v":5.979},{"h":6.125,"c":0.6875,"v":6.104},{"h":6.375,"c":0.6875,"v":6.229},{"h":6.625,"c":0.6875,"v":6.354},{"h":6.875,"c":0.6875,"v":6.479},{"h":7.125,"c":0.6875,"v":6.604},{"h":7.375,"c":0.6875,"v":6.729},{"h":7.625,"c":0.6875,"v":6.854},{"h":7.875,"c":0.6875,"v":6.979},
{"h":0.125,"c":0.7125,"v":3.201},{"h":0.375,"c":0.7125,"v":3.326},{"h":0.625,"c":0.7125,"v":3.451},{"h":0.875,"c":0.7125,"v":3.576},{"h":1.125,"c":0.7125,"v":3.701},{"h":1.375,"c":0.7125,"v":3.826},{"h":1.625,"c":0.7125,"v":3.951},{"h":1.875,"c":0.7125,"v":4.076},{"h":2.125,"c":0.7125,"v":4.201},{"h":2.375,"c":0.7125,"v":4.326},{"h":2.625,"c":0.7125,"v":4.451},{"h":2.875,"c":0.7125,"v":4.576},{"h":3.125,"c":0.7125,"v":4.701},{"h":3.375,"c":0.7125,"v":4.826},{"h":3.625,"c":0.7125,"v":4.951},{"h":3.875,"c":0.7125,"v":5.076},{"h":4.125,"c":0.7125,"v":5.201},{"h":4.375,"c":0.7125,"v":5.326},{"h":4.625,"c":0.7125,"v":5.451},{"h":4.875,"c":0.7125,"v":5.576},{"h":5.125,"c":0.7125,"v":5.701},{"h":5.375,"c":0.7125,"v":5.826},{"h":5.625,"c":0.7125,"v":5.951},{"h":5.875,"c":0.7125,"v":6.076},{"h":6.125,"c":0.7125,"v":6.201},{"h":6.375,"c":0.7125,"v":6.326},{"h":6.625,"c":0.7125,"v":6.451},{"h":6.875,"c":0.7125,"v":6.576},{"h":7.125,"c":0.7125,"v":6.701},{"h":7.375,"c":0.7125,"v":6.826},{"h":7.625,"c":0.7125,"v":6.951},{"h":7.875,"c":0.7125,"v":7.076},
{"h":0.125,"c":0.7375,"v":3.299},{"h":0.375,"c":0.7375,"v":3.424},{"h":0.625,"c":0.7375,"v":3.549},{"h":0.875,"c":0.7375,"v":3.674},{"h":1.125,"c":0.7375,"v":3.799},{"h":1.375,"c":0.7375,"v":3.924},{"h":1.625,"c":0.7375,"v":4.049},{"h":1.875,"c":0.7375,"v":4.174},{"h":2.125,"c":0.7375,"v":4.299},{"h":2.375,"c":0.7375,"v":4.424},{"h":2.625,"c":0.7375,"v":4.549},{"h":2.875,"c":0.7375,"v":4.674},{"h":3.125,"c":0.7375,"v":4.799},{"h":3.375,"c":0.7375,"v":4.924},{"h":3.625,"c":0.7375,"v":5.049},{"h":3.875,"c":0.7375,"v":5.174},{"h":4.125,"c":0.7375,"v":5.299},{"h":4.375,"c":0.7375,"v":5.424},{"h":4.625,"c":0.7375,"v":5.549},{"h":4.875,"c":0.7375,"v":5.674},{"h":5.125,"c":0.7375,"v":5.799},{"h":5.375,"c":0.7375,"v":5.924},{"h":5.625,"c":0.7375,"v":6.049},{"h":5.875,"c":0.7375,"v":6.174},{"h":6.125,"c":0.7375,"v":6.299},{"h":6.375,"c":0.7375,"v":6.424},{"h":6.625,"c":0.7375,"v":6.549},{"h":6.875,"c":0.7375,"v":6.674},{"h":7.125,"c":0.7375,"v":6.799},{"h":7.375,"c":0.7375,"v":6.924},{"h":7.625,"c":0.7375,"v":7.049},{"h":7.875,"c":0.7375,"v":7.174},
{"h":0.125,"c":0.7625,"v":3.396},{"h":0.375,"c":0.7625,"v":3.521},{"h":0.625,"c":0.7625,"v":3.646},{"h":0.875,"c":0.7625,"v":3.771},{"h":1.125,"c":0.7625,"v":3.896},{"h":1.375,"c":0.7625,"v":4.021},{"h":1.625,"c":0.7625,"v":4.146},{"h":1.875,"c":0.7625,"v":4.271},{"h":2.125,"c":0.7625,"v":4.396},{"h":2.375,"c":0.7625,"v":4.521},{"h":2.625,"c":0.7625,"v":4.646},{"h":2.875,"c":0.7625,"v":4.771},{"h":3.125,"c":0.7625,"v":4.896},{"h":3.375,"c":0.7625,"v":5.021},{"h":3.625,"c":0.7625,"v":5.146},{"h":3.875,"c":0.7625,"v":5.271},{"h":4.125,"c":0.7625,"v":5.396},{"h":4.375,"c":0.7625,"v":5.521},{"h":4.625,"c":0.7625,"v":5.646},{"h":4.875,"c":0.7625,"v":5.771},{"h":5.125,"c":0.7625,"v":5.896},{"h":5.375,"c":0.7625,"v":6.021},{"h":5.625,"c":0.7625,"v":6.146},{"h":5.875,"c":0.7625,"v":6.271},{"h":6.125,"c":0.7625,"v":6.396},{"h":6.375,"c":0.7625,"v":6.521},{"h":6.625,"c":0.7625,"v":6.646},{"h":6.875,"c":0.7625,"v":6.771},{"h":7.125,"c":0.7625,"v":6.896},{"h":7.375,"c":0.7625,"v":7.021},{"h":7.625,"c":0.7625,"v":7.146},{"h":7.875,"c":0.7625,"v":7.271},
{"h":0.125,"c":0.7875,"v":3.494},{"h":0.375,"c":0.7875,"v":3.619},{"h":0.625,"c":0.7875,"v":3.744},{"h":0.875,"c":0.7875,"v":3.869},{"h":1.125,"c":0.7875,"v":3.994},{"h":1.375,"c":0.7875,"v":4.119},{"h":1.625,"c":0.7875,"v":4.244},{"h":1.875,"c":0.7875,"v":4.369},{"h":2.125,"c":0.7875,"v":4.494},{"h":2.375,"c":0.7875,"v":4.619},{"h":2.625,"c":0.7875,"v":4.744},{"h":2.875,"c":0.7875,"v":4.869},{"h":3.125,"c":0.7875,"v":4.994},{"h":3.375,"c":0.7875,"v":5.119},{"h":3.625,"c":0.7875,"v":5.244},{"h":3.875,"c":0.7875,"v":5.369},{"h":4.125,"c":0.7875,"v":5.494},{"h":4.375,"c":0.7875,"v":5.619},{"h":4.625,"c":0.7875,"v":5.744},{"h":4.875,"c":0.7875,"v":5.869},{"h":5.125,"c":0.7875,"v":5.994},{"h":5.375,"c":0.7875,"v":6.119},{"h":5.625,"c":0.7875,"v":6.244},{"h":5.875,"c":0.7875,"v":6.369},{"h":6.125,"c":0.7875,"v":6.494},{"h":6.375,"c":0.7875,"v":6.619},{"h":6.625,"c":0.7875,"v":6.744},{"h":6.875,"c":0.7875,"v":6.869},{"h":7.125,"c":0.7875,"v":6.994},{"h":7.375,"c":0.7875,"v":7.119},{"h":7.625,"c":0.7875,"v":7.244},{"h":7.875,"c":0.7875,"v":7.369}
],
"lines":[
{"L":0.5,"h":0.28,"c":0},{"L":0.5,"h":0,"c":0.0359},
{"L":1.0,"h":1.28,"c":0},{"L":1.0,"h":0,"c":0.1641},
{"L":1.5,"h":2.28,"c":0},{"L":1.5,"h":0,"c":0.2923},
{"L":2.0,"h":3.28,"c":0},{"L":2.0,"h":0,"c":0.4205},
{"L":2.5,"h":4.28,"c":0},{"L":2.5,"h":0,"c":0.5487},
{"L":3.0,"h":5.28,"c":0},{"L":3.0,"h":0,"c":0.6769},
{"L":3.5,"h":6.28,"c":0},{"L":3.5,"h":0.04,"c":0.8},
{"L":4.0,"h":7.28,"c":0},{"L":4.0,"h":1.04,"c":0.8},
{"L":4.5,"h":8,"c":0.0359},{"L":4.5,"h":2.04,"c":0.8},
{"L":5.0,"h":8,"c":0.1641},{"L":5.0,"h":3.04,"c":0.8},
{"L":5.5,"h":8,"c":0.2923},{"L":5.5,"h":4.04,"c":0.8},
{"L":6.0,"h":8,"c":0.4205},{"L":6.0,"h":5.04,"c":0.8},
{"L":6.5,"h":8,"c":0.5487},{"L":6.5,"h":6.04,"c":0.8},
{"L":7.0,"h":8,"c":0.6769},{"L":7.0,"h":7.04,"c":0.8}
],
"labels":[
{"t":"1.0","h":0.814,"c":0.0605},
{"t":"1.5","h":1.386,"c":0.1168},
{"t":"2.0","h":1.991,"c":0.1665},
{"t":"2.5","h":2.558,"c":0.2193},
{"t":"3.0","h":3.104,"c":0.2802},
{"t":"3.5","h":3.623,"c":0.3411},
{"t":"4.0","h":4.195,"c":0.3939},
{"t":"4.5","h":4.779,"c":0.448},
{"t":"5.0","h":5.351,"c":0.5022},
{"t":"5.5","h":5.9,"c":0.5635},
{"t":"6.0","h":6.432,"c":0.6226},
{"t":"6.5","h":7.004,"c":0.6787},
{"t":"7.0","h":7.601,"c":0.7283}
]
},
"config":{
"view":{"stroke":"black","strokeWidth":3},
"font":"Liberation Sans",
"axis":{"domainColor":"black","domainWidth":3,"tickColor":"black","tickWidth":2.5,"labelFont":"Liberation Sans","labelFontSize":30,"labelColor":"black","titleFont":"Liberation Sans","titleFontWeight":"normal","titleColor":"black","grid":false,"labelOverlap":false,"labelFlush":false},
"legend":{"orient":"none","legendX":633,"legendY":-87,"direction":"vertical","gradientLength":591,"gradientThickness":48,"gradientStrokeColor":"black","gradientStrokeWidth":3,"labelFont":"Liberation Sans","labelFontSize":18,"labelColor":"black","labelBaseline":"middle","labelOverlap":false,"titleFont":"Liberation Sans","titleFontSize":22,"titleFontWeight":"normal","titleColor":"black","titleAnchor":"middle","titleAlign":"center","titleLineHeight":30,"titlePadding":36}
},
"layer":[
{"data":{"name":"grid"},
 "mark":{"type":"rect","binSpacing":0},
 "encoding":{
  "x":{"field":"h","type":"quantitative","bin":{"step":0.25,"extent":[0,8],"nice":false},"scale":{"domain":[0,8],"nice":false,"zero":false},"title":"H₂ cost (A$ per kg)",
       "axis":{"values":[0,0.5,1,1.5,2,2.5,3,3.5,4,4.5,5,5.5,6,6.5,7,7.5,8],"format":"d","labelExpr":"datum.value % 1 === 0 ? datum.label : ''","tickSize":{"condition":{"test":"datum.value % 1 === 0","value":11},"value":6},"labelPadding":6,"titlePadding":24,"titleFontSize":38}},
  "y":{"field":"c","type":"quantitative","bin":{"step":0.025,"extent":[0,0.8],"nice":false},"scale":{"domain":[0,0.8],"nice":false,"zero":false},"title":"Captured CO₂ cost (A$ per kg)",
       "axis":{"values":[0,0.05,0.1,0.15,0.2,0.25,0.3,0.35,0.4,0.45,0.5,0.55,0.6,0.65,0.7,0.75,0.8],"format":".1f","labelExpr":"round(datum.value*100) % 10 === 0 ? datum.label : ''","tickSize":{"condition":{"test":"round(datum.value*100) % 10 === 0","value":11},"value":6},"labelPadding":6,"titlePadding":26,"titleFontSize":44}},
  "color":{"aggregate":"mean","field":"v","type":"quantitative","scale":{"type":"linear","domain":[0,7.5],"range":["#0000ff","#00ffff","#00ff00","#ffff00","#ff0000"],"interpolate":"rgb"},"title":["e-SAF cost","(A$ per kg)"],
       "legend":{"type":"gradient","values":[0,0.5,1,1.5,2,2.5,3,3.5,4,4.5,5,5.5,6,6.5,7,7.5],"format":".1f","labelOffset":14,
                 "encode":{"labels":{"update":{"baseline":{"value":"middle"}}}}}}
 }},
{"data":{"name":"lines"},
 "mark":{"type":"line","color":"#333333","strokeWidth":2.2,"strokeDash":[8,8],"opacity":0.85},
 "encoding":{
  "x":{"field":"h","type":"quantitative","scale":{"domain":[0,8],"nice":false,"zero":false}},
  "y":{"field":"c","type":"quantitative","scale":{"domain":[0,0.8],"nice":false,"zero":false}},
  "detail":{"field":"L","type":"nominal"}
 }},
{"data":{"name":"labels"},
 "mark":{"type":"point","shape":"M-1,-0.7H1V0.7H-1Z","filled":true,"color":"white","opacity":1,"size":800,"strokeWidth":0},
 "encoding":{
  "x":{"field":"h","type":"quantitative","scale":{"domain":[0,8],"nice":false,"zero":false}},
  "y":{"field":"c","type":"quantitative","scale":{"domain":[0,0.8],"nice":false,"zero":false}}
 }},
{"data":{"name":"labels"},
 "mark":{"type":"text","font":"Liberation Sans","fontSize":17,"color":"black","align":"center","baseline":"middle"},
 "encoding":{
  "x":{"field":"h","type":"quantitative","scale":{"domain":[0,8],"nice":false,"zero":false}},
  "y":{"field":"c","type":"quantitative","scale":{"domain":[0,0.8],"nice":false,"zero":false}},
  "text":{"field":"t","type":"nominal"}
 }}
]
}
